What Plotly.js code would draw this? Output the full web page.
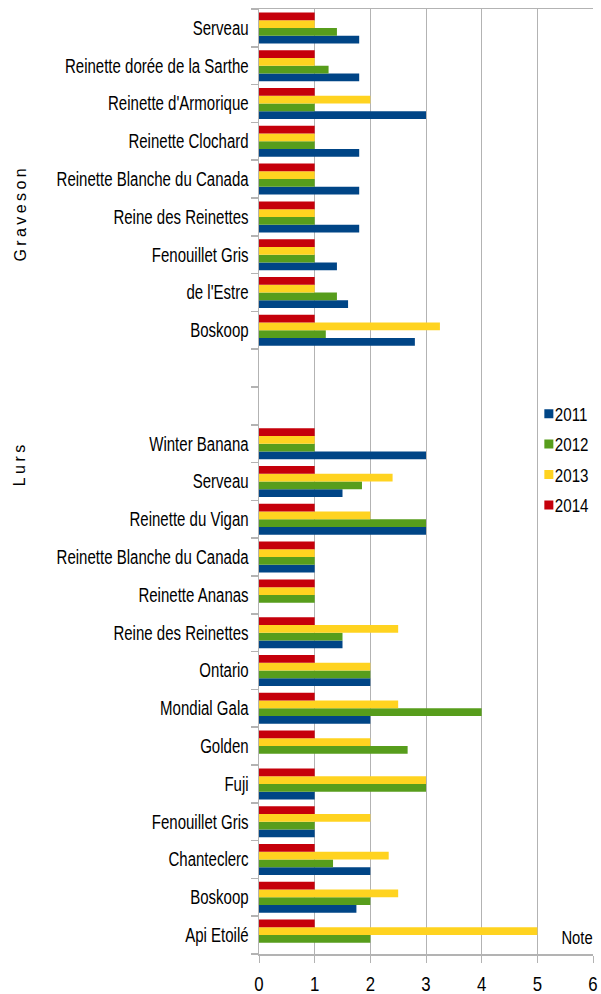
<!DOCTYPE html>
<html>
<head>
<meta charset="utf-8">
<script src="https://cdn.plot.ly/plotly-3.0.1.min.js"></script>
<style>
  html, body { margin: 0; padding: 0; background: #fff; }
  #chart { width: 601px; height: 994px; }
</style>
</head>
<body>
<div id="chart"></div>
<script>
// ---- Data (each group listed top to bottom) ----
const gravesonCats = ["Serveau", "Reinette dorée de la Sarthe", "Reinette d'Armorique", "Reinette Clochard",
  "Reinette Blanche du Canada", "Reine des Reinettes", "Fenouillet Gris", "de l'Estre", "Boskoop"];
const graveson2011 = [1.8, 1.8, 3, 1.8, 1.8, 1.8, 1.4, 1.6, 2.8];
const graveson2012 = [1.4, 1.25, 1, 1, 1, 1, 1, 1.4, 1.2];
const graveson2013 = [1, 1, 2, 1, 1, 1, 1, 1, 3.25];
const graveson2014 = [1, 1, 1, 1, 1, 1, 1, 1, 1];

const lursCats = ["Winter Banana", "Serveau", "Reinette du Vigan", "Reinette Blanche du Canada", "Reinette Ananas",
  "Reine des Reinettes", "Ontario", "Mondial Gala", "Golden", "Fuji", "Fenouillet Gris", "Chanteclerc",
  "Boskoop", "Api Etoilé"];
const lurs2011 = [3, 1.5, 3, 1, null, 1.5, 2, 2, null, 1, 1, 2, 1.75, null];
const lurs2012 = [1, 1.85, 3, 1, 1, 1.5, 2, 4, 2.67, 3, 1, 1.33, 2, 2];
const lurs2013 = [1, 2.4, 2, 1, 1, 2.5, 2, 2.5, 2, 3, 2, 2.33, 2.5, 5];
const lurs2014 = [1, 1, 1, 1, 1, 1, 1, 1, 1, 1, 1, 1, 1, 1];

const years = ["2011", "2012", "2013", "2014"];
const colors = ["#004586", "#579d1c", "#ffd320", "#c5000b"];
const groupNames = ["Graveson", "Lurs"];
const xTicks = [0, 1, 2, 3, 4, 5, 6];
const axisTitle = "Note";
const gapSlots = 2;

// ---- Slot positions (bottom = 0) ----
const nL = lursCats.length, nG = gravesonCats.length;
const lursPos = lursCats.map((_, i) => nL - 1 - i);
const gravPos = gravesonCats.map((_, i) => nL + gapSlots + nG - 1 - i);
const totalSlots = nL + gapSlots + nG;

const gSeries = [graveson2011, graveson2012, graveson2013, graveson2014];
const lSeries = [lurs2011, lurs2012, lurs2013, lurs2014];

const allPos = gravPos.concat(lursPos);
const allNames = gravesonCats.concat(lursCats);

const traces = years.map((yr, k) => ({
  type: "bar",
  orientation: "h",
  name: yr,
  legendgroup: yr,
  x: gSeries[k].concat(lSeries[k]),
  y: allPos,
  marker: { color: colors[k], line: { width: 0 } },
  hoverinfo: "x+name"
}));

const boundaries = [];
for (let b = 0; b <= totalSlots; b++) boundaries.push(b - 0.5);

const FN = "'Liberation Sans', Arial, sans-serif";
const grey = "#b3b3b3";

const layout = {
  width: 601, height: 994,
  margin: { l: 259, r: 8, t: 9, b: 40, autoexpand: false },
  paper_bgcolor: "#fff", plot_bgcolor: "#fff",
  barmode: "group", bargap: 0.18, bargroupgap: 0,
  showlegend: true,
  legend: {
    x: 0.766, xanchor: "left", y: 0.591, yanchor: "top",
    xref: "paper", yref: "paper",
    bgcolor: "rgba(0,0,0,0)",
    font: { family: FN, size: 18, color: "#000" },
    traceorder: "grouped", tracegroupgap: 4
  },
  xaxis: {
    range: [0, 6], tickmode: "array", tickvals: xTicks,
    showgrid: true, gridcolor: grey, gridwidth: 1,
    showline: true, linecolor: grey, linewidth: 1.5, mirror: true,
    zeroline: false,
    ticks: "outside", ticklen: 7, tickcolor: grey,
    ticklabelstandoff: 3,
    tickfont: { family: FN, size: 21, color: "#000" },
    fixedrange: true
  },
  yaxis: {
    range: [-0.5, totalSlots - 0.5],
    tickmode: "array", tickvals: allPos, ticktext: allNames,
    ticks: "", showgrid: false, zeroline: false,
    showline: true, linecolor: grey, linewidth: 1.5,
    ticklabelstandoff: 5,
    tickfont: { family: FN, size: 19.5, color: "#000" },
    minor: { tickmode: "array", tickvals: boundaries, ticks: "outside", ticklen: 7, tickcolor: grey, tickwidth: 1.5, showgrid: false },
    fixedrange: true
  },
  annotations: [
    { text: axisTitle, xref: "paper", yref: "paper", x: 1.015, y: 0.017, xanchor: "right", yanchor: "middle",
      showarrow: false, font: { family: FN, size: 18, color: "#000" } },
    { text: groupNames[0], xref: "paper", yref: "paper", x: -0.716, y: 0.784, xanchor: "center", yanchor: "middle",
      textangle: -90, showarrow: false, font: { family: FN, size: 16, color: "#000" } },
    { text: groupNames[1], xref: "paper", yref: "paper", x: -0.716, y: 0.519, xanchor: "center", yanchor: "middle",
      textangle: -90, showarrow: false, font: { family: FN, size: 16, color: "#000" } }
  ]
};

Plotly.newPlot("chart", traces, layout, { displayModeBar: false, staticPlot: true }).then(() => {
  const condense = (el, f) => {
    const w = el.getComputedTextLength();
    if (w > 0) {
      el.setAttribute("textLength", (w * f).toFixed(2));
      el.setAttribute("lengthAdjust", "spacingAndGlyphs");
    }
  };
  document.querySelectorAll(".ytick text").forEach(el => condense(el, 0.77));
  document.querySelectorAll(".xtick text").forEach(el => condense(el, 0.8));
  document.querySelectorAll(".legendtext").forEach(el => condense(el, 0.84));
  document.querySelectorAll(".annotation-text").forEach(el => {
    if (el.textContent === axisTitle) condense(el, 0.82);
    else if (groupNames.includes(el.textContent)) el.style.letterSpacing = "3.4px";
  });
  document.querySelectorAll(".legend .legendpoints path").forEach(p => {
    p.setAttribute("transform", "translate(34,0) scale(0.75)");
  });
});
</script>
</body>
</html>
